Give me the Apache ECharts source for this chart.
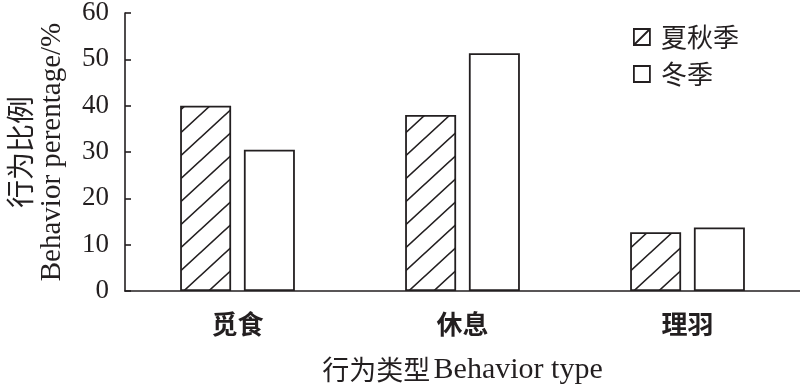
<!DOCTYPE html>
<html>
<head>
<meta charset="utf-8">
<script src="https://cdn.jsdelivr.net/npm/echarts@6/dist/echarts.min.js"></script>
<style>html,body{margin:0;padding:0;background:#fff}#c{width:800px;height:386px}</style>
</head>
<body>
<div id="c"></div>
<script>
var categories = ['觅食', '休息', '理羽'];
var seriesNames = ['夏秋季', '冬季'];
var summerAutumn = [40, 38, 12.7];
var winter = [30.5, 51.3, 13.7];
var yTicks = [0, 10, 20, 30, 40, 50, 60];

var INK = '#231f20';
var CN = '"Noto Sans CJK SC"';
var EN = '"Liberation Serif", "Times New Roman", serif';

function hatchCanvas(w, h) {
  var c = document.createElement('canvas');
  c.width = w; c.height = h;
  var g = c.getContext('2d');
  g.fillStyle = '#fff';
  g.fillRect(0, 0, w, h);
  g.strokeStyle = INK;
  g.lineWidth = 1.6;
  g.beginPath();
  g.moveTo(-w, 2 * h); g.lineTo(2 * w, -h);
  g.moveTo(-2 * w, 2 * h); g.lineTo(w, -h);
  g.moveTo(0, 2 * h); g.lineTo(3 * w, -h);
  g.stroke();
  return c;
}

var chart = echarts.init(document.getElementById('c'), null, {renderer: 'canvas'});
chart.setOption({
  animation: false,
  backgroundColor: '#fff',
  grid: {left: 125, right: 0, top: 13, bottom: 95, containLabel: false, outerBoundsMode: 'none'},
  legend: {
    orient: 'vertical',
    left: 628,
    top: 19,
    itemWidth: 16,
    itemHeight: 16,
    itemGap: 11,
    textStyle: {fontFamily: CN, fontSize: 26, color: INK, padding: [0, 0, 0, 6]},
    data: [
      {name: seriesNames[0], icon: 'path://M0,0L16,0L16,16L0,16ZM1,15L15,1', itemStyle: {color: '#fff', borderColor: INK, borderWidth: 1.8}},
      {name: seriesNames[1], icon: 'rect', itemStyle: {color: '#fff', borderColor: INK, borderWidth: 1.8}}
    ]
  },
  xAxis: {
    type: 'category',
    data: categories,
    axisLine: {lineStyle: {color: INK, width: 1.6}},
    axisTick: {show: false},
    axisLabel: {fontFamily: CN, fontSize: 26, fontWeight: 'bold', color: INK, margin: 20},
    name: '{cn|行为类型} {en|Behavior type}',
    nameLocation: 'middle',
    nameGap: 64,
    nameTextStyle: {
      rich: {
        cn: {fontFamily: CN, fontSize: 27, color: INK},
        en: {fontFamily: EN, fontSize: 30, color: INK}
      }
    }
  },
  yAxis: {
    type: 'value',
    min: 0, max: 60, interval: 10,
    axisLine: {show: true, lineStyle: {color: INK, width: 1.6}},
    axisTick: {show: true, inside: true, length: 6, lineStyle: {color: INK, width: 1.6}},
    splitLine: {show: false},
    axisLabel: {fontFamily: EN, fontSize: 27, color: INK, margin: 16,
      formatter: function (v) { return yTicks.indexOf(v) >= 0 ? String(v) : ''; }},
    name: '{cn|行为比例}\n{en|Behavior perentage/%}',
    nameLocation: 'middle',
    nameRotate: 90,
    nameGap: 57,
    nameTextStyle: {
      lineHeight: 32,
      rich: {
        cn: {fontFamily: CN, fontSize: 28, color: INK, lineHeight: 32},
        en: {fontFamily: EN, fontSize: 29, color: INK, lineHeight: 32}
      }
    }
  },
  series: [
    {
      name: seriesNames[0],
      type: 'bar',
      data: summerAutumn,
      barWidth: 51,
      barGap: '25%',
      itemStyle: {color: {image: hatchCanvas(25, 23), repeat: 'repeat'}, borderColor: INK, borderWidth: 1.8}
    },
    {
      name: seriesNames[1],
      type: 'bar',
      data: winter,
      barWidth: 51,
      barGap: '25%',
      itemStyle: {color: '#fff', borderColor: INK, borderWidth: 1.8}
    }
  ]
});
</script>
</body>
</html>
